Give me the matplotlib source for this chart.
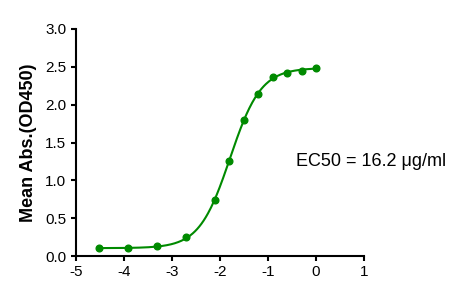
import numpy as np
import matplotlib
matplotlib.use("Agg")
import matplotlib.pyplot as plt

plt.rcParams['font.family'] = ['Liberation Sans', 'DejaVu Sans']

# data: log10 concentration vs mean absorbance
log_conc = [0.0, -0.301, -0.602, -0.903, -1.204, -1.505, -1.806, -2.107,
            -2.709, -3.311, -3.913, -4.515]
mean_abs = [2.49, 2.45, 2.42, 2.36, 2.14, 1.80, 1.26, 0.74,
            0.25, 0.13, 0.10, 0.10]

x_ticks = [-5, -4, -3, -2, -1, 0, 1]
y_ticks = [0.0, 0.5, 1.0, 1.5, 2.0, 2.5, 3.0]
y_label = "Mean Abs.(OD450)"
annot = "EC50 = 16.2 \u03bcg/ml"

green = '#008a00'

# least-squares 4PL fit (grid over EC50 & Hill, linear solve for bottom/top)
xd = np.array(log_conc)
yd = np.array(mean_abs)
best = None
for c in np.linspace(-2.2, -1.4, 161):
    for h in np.linspace(0.8, 2.5, 171):
        s = 1.0 / (1 + 10 ** ((c - xd) * h))
        A = np.column_stack([np.ones_like(s), s])
        coef, *_ = np.linalg.lstsq(A, yd, rcond=None)
        r = np.sum((A @ coef - yd) ** 2)
        if best is None or r < best[0]:
            best = (r, c, h, coef)
_, log_ec50, hill, (bottom, span) = best

fig = plt.figure(figsize=(4.66, 2.96), dpi=100)
ax = fig.add_axes([76/466, 40/296, 288/466, 227/296])

xf = np.linspace(xd.min(), xd.max(), 300)
yf = bottom + span / (1 + 10 ** ((log_ec50 - xf) * hill))
ax.plot(xf, yf, color=green, lw=1.5, zorder=3)
ax.plot(log_conc, mean_abs, 'o', color=green, ms=4.8, zorder=4)

ax.set_xlim(-5, 1)
ax.set_ylim(0, 3)
ax.set_xticks(x_ticks)
ax.set_yticks(y_ticks)
ax.set_xticklabels([f"{t}" for t in x_ticks])
ax.set_yticklabels([f"{t:.1f}" for t in y_ticks])
for s in ['top', 'right']:
    ax.spines[s].set_visible(False)
for s in ['left', 'bottom']:
    ax.spines[s].set_linewidth(1.5)
ax.tick_params(direction='out', length=3.5, width=1.5, labelsize=11, colors='black')
ax.tick_params(axis='x', pad=3)
ax.set_ylabel(y_label, fontsize=13, fontweight='bold', labelpad=6)
ax.text(-0.417, 1.19, annot, fontsize=13, va='baseline', ha='left')

fig.savefig('out.png', dpi=100)
